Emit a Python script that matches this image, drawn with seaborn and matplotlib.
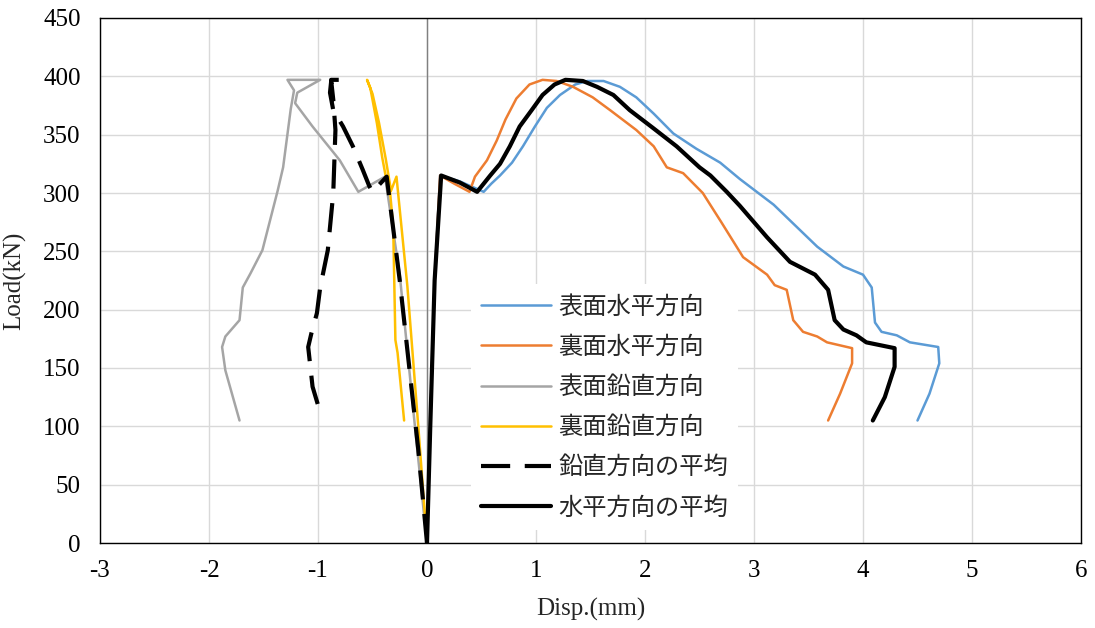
import numpy as np
import pandas as pd
import matplotlib
matplotlib.use("Agg")
import matplotlib.pyplot as plt
import seaborn as sns

# ---- data ----
blue_x = [0, 0.03, 0.07, 0.12, 0.30, 0.52, 0.59, 0.67, 0.78, 0.88, 0.99, 1.10, 1.22, 1.36, 1.47, 1.62, 1.77,
          1.92, 2.08, 2.26, 2.47, 2.69, 2.87, 3.18, 3.58, 3.82, 4.00, 4.08, 4.11, 4.17, 4.31, 4.43, 4.69,
          4.70, 4.61, 4.50]
blue_y = [0, 100, 225, 315, 310, 301, 308, 315, 326, 340, 357, 373, 384, 393, 396, 396, 391,
          382, 368, 351, 338, 326, 312, 290, 254, 237, 230, 219, 189, 181, 178, 172, 168,
          154, 128, 105]

orange_x = [0, 0.03, 0.07, 0.12, 0.25, 0.39, 0.44, 0.55, 0.64, 0.72, 0.82, 0.94, 1.06, 1.19, 1.34, 1.52,
            1.68, 1.92, 2.08, 2.20, 2.35, 2.53, 2.70, 2.90, 3.12, 3.19, 3.30, 3.36, 3.45, 3.58, 3.67,
            3.90, 3.90, 3.79, 3.68]
orange_y = [0, 100, 225, 315, 308, 301, 314, 328, 345, 363, 381, 393, 397, 396, 391, 382,
            371, 354, 340, 322, 317, 300, 275, 245, 230, 221, 217, 191, 181, 177, 172,
            167, 154, 128, 105]

gray_x = [0, -0.10, -0.25, -0.385, -0.63, -0.80, -1.05, -1.21, -1.19, -0.98, -1.28, -1.22, -1.25, -1.32,
          -1.37, -1.51, -1.62, -1.69, -1.72, -1.85, -1.88, -1.85, -1.72]
gray_y = [0, 90, 230, 314, 301, 328, 357, 377, 386, 397, 397, 388, 372, 322,
          302, 251, 231, 219, 191, 177, 168, 148, 105]

yellow_x = [0, -0.08, -0.18, -0.28, -0.33, -0.38, -0.44, -0.50, -0.55, -0.52, -0.46, -0.41, -0.38, -0.34,
            -0.31, -0.29, -0.27, -0.21]
yellow_y = [0, 100, 220, 314, 302, 330, 360, 385, 397, 390, 360, 330, 315, 302,
            271, 174, 163, 105]

vavg_x = [0, -0.08, -0.25, -0.37, -0.50, -0.53, -0.59, -0.68, -0.77, -0.86, -0.89, -0.88, -0.77, -0.88,
          -0.86, -0.84, -0.86, -0.91, -0.98, -1.01, -1.06, -1.09, -1.05, -0.98]
vavg_y = [0, 80, 225, 314, 301, 306, 320, 340, 357, 371, 386, 395, 397, 397,
          380, 354, 300, 251, 219, 197, 180, 168, 134, 112]

havg_x = [0, 0.03, 0.07, 0.13, 0.30, 0.46, 0.58, 0.67, 0.76, 0.85, 0.96, 1.06, 1.17, 1.27, 1.43, 1.56,
          1.71, 1.86, 2.07, 2.29, 2.50, 2.60, 2.75, 2.87, 3.12, 3.33, 3.56, 3.68, 3.74, 3.82, 3.94,
          4.03, 4.29, 4.29, 4.20, 4.09]
havg_y = [0, 100, 225, 315, 309, 301, 315, 325, 340, 357, 371, 384, 393, 397, 396, 391,
          384, 371, 356, 340, 322, 315, 301, 289, 262, 241, 230, 217, 191, 183, 178,
          172, 167, 151, 125, 105]

labels = ["表面水平方向", "裏面水平方向", "表面鉛直方向", "裏面鉛直方向", "鉛直方向の平均", "水平方向の平均"]
colors = ["#5B9BD5", "#ED7D31", "#A5A5A5", "#FFC000", "#000000", "#000000"]

x_ticks = [-3, -2, -1, 0, 1, 2, 3, 4, 5, 6]
y_ticks = [0, 50, 100, 150, 200, 250, 300, 350, 400, 450]

# ---- style ----
sns.set_theme(style="white")
plt.rcParams['font.family'] = ['Liberation Serif', 'Noto Sans CJK JP', 'DejaVu Sans']

fig = plt.figure(figsize=(10.95, 6.28), dpi=100)
ax = fig.add_axes([100/1095, 1 - 543/628, 981/1095, 525/628])

series = [(blue_x, blue_y), (orange_x, orange_y), (gray_x, gray_y),
          (yellow_x, yellow_y), (vavg_x, vavg_y), (havg_x, havg_y)]
widths = [1.8, 1.8, 1.8, 1.8, 3.0, 3.0]

for i, ((xs, ys), lab, col, lw) in enumerate(zip(series, labels, colors, widths)):
    df = pd.DataFrame({"x": xs, "y": ys})
    sns.lineplot(data=df, x="x", y="y", sort=False, estimator=None, ax=ax,
                 color=col, linewidth=lw, label=lab, zorder=3 + i)
    if i == 4:
        ax.lines[-1].set_dashes([7, 3.5])
        ax.lines[-1].set_dash_capstyle('butt')

ax.axvline(0, color="#808080", linewidth=1.0, zorder=2)

ax.set_xlim(-3, 6)
ax.set_ylim(0, 450)
ax.set_xticks(x_ticks)
ax.set_yticks(y_ticks)
ax.set_xticklabels([str(t) for t in x_ticks])
ax.set_yticklabels([str(t) for t in y_ticks])
ax.grid(True, color="#D9D9D9", linewidth=1.0, zorder=0)
ax.set_axisbelow(True)
for s in ax.spines.values():
    s.set_color("#000000")
    s.set_linewidth(1.0)
ax.tick_params(axis='both', length=0, labelsize=18, colors="#000000")
ax.tick_params(axis='y', pad=14)
ax.tick_params(axis='x', pad=12)

ax.set_xlabel("Disp.(mm)", fontsize=18, labelpad=12)
ax.set_ylabel("Load(kN)", fontsize=18, labelpad=12)

leg = ax.legend(loc="upper left", bbox_to_anchor=(0.378, 0.493),
                frameon=True, facecolor="white", edgecolor="none", framealpha=1,
                handlelength=2.9, handletextpad=0.3, labelspacing=0.58, borderaxespad=0,
                prop={'family': ['Noto Sans CJK JP'], 'size': 17.5})
leg.set_zorder(20)

fig.savefig("out.png", dpi=100)
